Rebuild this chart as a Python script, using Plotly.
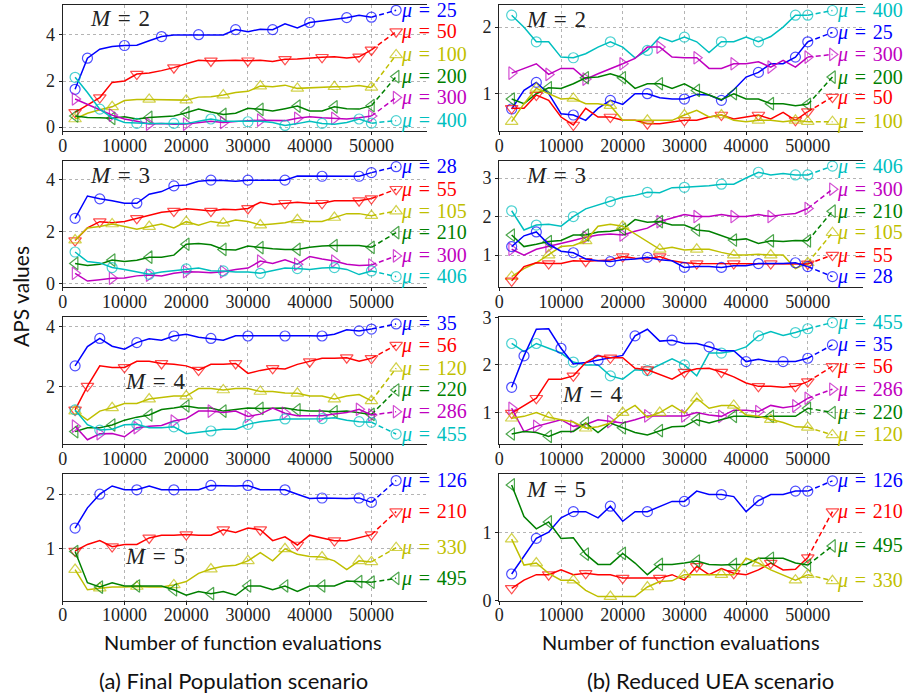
import plotly.graph_objects as go
from plotly.subplots import make_subplots

# ---------------------------------------------------------------- data
EVALS = list(range(2000, 50001, 2000))
FINAL_EVAL = 54000
X_TICKS = [0, 10000, 20000, 30000, 40000, 50000]

# (a) Final Population scenario, M = 2
a2_mu = ["25", "50", "100", "200", "300", "400"]
a2_mu25 = [1.64, 2.99, 3.38, 3.5, 3.54, 3.55, 3.75, 3.93, 4.0, 4.0, 4.01, 4.0, 4.0, 4.23, 4.14, 4.25, 4.23, 4.48, 4.3, 4.54, 4.6, 4.68, 4.75, 4.85, 4.77]
a2_mu50 = [0.64, 0.95, 1.28, 1.94, 2.0, 2.3, 2.35, 2.45, 2.58, 2.75, 2.9, 2.87, 2.9, 2.9, 2.88, 2.9, 2.85, 2.94, 2.95, 3.0, 3.03, 3.05, 3.0, 3.05, 3.35]
a2_mu100 = [0.35, 0.6, 0.75, 0.88, 1.15, 1.2, 1.2, 1.2, 1.2, 1.17, 1.3, 1.32, 1.39, 1.5, 1.55, 1.78, 1.75, 1.82, 1.68, 1.7, 1.75, 1.75, 1.75, 1.8, 1.72]
a2_mu200 = [0.48, 0.42, 0.4, 0.38, 0.45, 0.35, 0.42, 0.45, 0.48, 0.62, 0.78, 0.65, 0.55, 0.6, 0.82, 0.77, 0.7, 0.8, 0.91, 0.7, 0.7, 0.88, 0.8, 0.78, 0.93]
a2_mu300 = [1.22, 1.0, 0.75, 0.52, 0.35, 0.25, 0.13, 0.15, 0.12, 0.13, 0.2, 0.25, 0.2, 0.25, 0.28, 0.3, 0.28, 0.28, 0.38, 0.45, 0.4, 0.38, 0.35, 0.4, 0.48]
a2_mu400 = [2.16, 1.5, 0.78, 0.4, 0.2, 0.16, 0.15, 0.15, 0.16, 0.15, 0.25, 0.35, 0.25, 0.25, 0.23, 0.25, 0.2, 0.07, 0.15, 0.25, 0.16, 0.12, 0.2, 0.35, 0.17]
a2_end = [5.07, 4.14, 3.13, 2.19, 1.28, 0.28]

# (a) M = 3
a3_mu = ["28", "55", "105", "210", "300", "406"]
a3_mu28 = [2.52, 3.38, 3.27, 3.2, 3.1, 3.1, 3.45, 3.55, 3.77, 3.8, 3.95, 3.99, 3.98, 3.95, 3.99, 4.0, 4.0, 3.99, 4.15, 4.15, 4.14, 4.15, 4.15, 4.14, 4.28]
a3_mu55 = [1.66, 2.15, 2.39, 2.35, 2.4, 2.52, 2.65, 2.75, 2.8, 2.89, 2.85, 2.8, 2.87, 2.85, 2.9, 3.14, 3.05, 3.1, 3.14, 3.1, 3.1, 3.2, 3.2, 3.2, 3.28]
a3_mu105 = [1.68, 2.15, 2.2, 2.3, 2.2, 2.1, 2.2, 2.3, 2.15, 2.39, 2.25, 2.4, 2.33, 2.45, 2.4, 2.26, 2.3, 2.35, 2.46, 2.4, 2.4, 2.55, 2.7, 2.7, 2.62]
a3_mu210 = [0.78, 0.7, 0.75, 0.91, 0.85, 0.9, 1.02, 1.02, 1.1, 1.52, 1.55, 1.5, 1.32, 1.3, 1.45, 1.39, 1.35, 1.32, 1.32, 1.4, 1.45, 1.47, 1.47, 1.47, 1.4]
a3_mu300 = [0.4, 0.1, 0.15, 0.21, 0.22, 0.3, 0.33, 0.3, 0.4, 0.46, 0.45, 0.42, 0.46, 0.55, 0.6, 0.87, 0.78, 0.92, 0.75, 1.05, 0.95, 0.87, 0.75, 0.7, 0.72]
a3_mu406 = [1.22, 0.85, 0.8, 0.62, 0.55, 0.45, 0.36, 0.45, 0.5, 0.57, 0.6, 0.5, 0.49, 0.45, 0.45, 0.4, 0.5, 0.6, 0.58, 0.55, 0.6, 0.62, 0.55, 0.35, 0.49]
a3_end = [4.51, 3.64, 2.8, 1.97, 1.07, 0.27]

# (a) M = 4
a4_mu = ["35", "56", "120", "220", "286", "455"]
a4_mu35 = [2.7, 3.34, 3.61, 3.35, 3.25, 3.47, 3.6, 3.55, 3.69, 3.75, 3.65, 3.61, 3.55, 3.7, 3.69, 3.7, 3.7, 3.69, 3.7, 3.7, 3.69, 3.75, 3.9, 3.86, 3.92]
a4_mu56 = [1.24, 2.03, 2.7, 2.65, 2.65, 2.85, 2.85, 2.78, 2.75, 2.7, 2.56, 2.75, 2.75, 2.78, 2.45, 2.55, 2.62, 2.6, 2.75, 2.84, 2.95, 2.95, 2.97, 2.85, 2.95]
a4_mu120 = [1.2, 0.9, 1.2, 1.31, 1.45, 1.45, 1.6, 1.65, 1.7, 1.7, 1.95, 1.95, 1.9, 1.95, 1.95, 1.85, 1.85, 1.8, 1.79, 1.7, 1.7, 1.6, 1.7, 1.75, 1.54]
a4_mu220 = [0.52, 0.65, 0.65, 0.74, 0.9, 1.0, 1.07, 1.25, 1.3, 1.37, 1.3, 1.3, 1.2, 1.25, 1.3, 1.29, 1.3, 1.3, 1.24, 1.2, 1.2, 1.18, 1.2, 1.15, 1.09]
a4_mu286 = [0.7, 0.25, 0.45, 0.46, 0.35, 0.65, 0.7, 0.72, 0.87, 0.95, 1.2, 1.2, 1.15, 1.2, 1.02, 1.1, 1.3, 1.13, 1.05, 1.05, 1.05, 1.1, 1.15, 1.26, 1.07]
a4_mu455 = [1.24, 0.75, 0.57, 0.6, 0.75, 0.76, 0.65, 0.65, 0.68, 0.45, 0.5, 0.54, 0.6, 0.6, 0.76, 0.85, 0.9, 0.94, 0.94, 0.94, 0.95, 0.98, 0.9, 0.85, 0.83]
a4_end = [4.09, 3.39, 2.62, 1.9, 1.18, 0.44]

# (a) M = 5
a5_mu = ["126", "210", "330", "495"]
a5_mu126 = [1.38, 1.75, 2.0, 2.15, 2.08, 2.08, 2.15, 2.08, 2.08, 2.08, 2.08, 2.16, 2.15, 2.15, 2.16, 2.08, 2.08, 2.08, 2.0, 1.92, 1.93, 1.92, 1.92, 1.93, 1.85]
a5_mu210 = [0.96, 1.08, 1.15, 1.04, 1.08, 1.08, 1.2, 1.25, 1.25, 1.26, 1.25, 1.25, 1.35, 1.3, 1.38, 1.35, 1.15, 1.22, 1.07, 1.25, 1.2, 1.15, 1.15, 1.2, 1.26]
a5_mu330 = [0.62, 0.25, 0.28, 0.3, 0.3, 0.31, 0.3, 0.3, 0.34, 0.4, 0.55, 0.63, 0.68, 0.7, 0.78, 0.93, 0.78, 1.0, 0.9, 0.86, 0.85, 0.78, 0.62, 0.78, 0.76]
a5_mu495 = [0.95, 0.38, 0.3, 0.38, 0.32, 0.32, 0.32, 0.32, 0.25, 0.15, 0.22, 0.18, 0.22, 0.15, 0.32, 0.32, 0.25, 0.32, 0.22, 0.32, 0.32, 0.32, 0.41, 0.4, 0.39]
a5_end = [2.25, 1.68, 1.02, 0.46]

# (b) Reduced UEA scenario, M = 2
b2_mu = ["400", "25", "300", "200", "50", "100"]
b2_mu400 = [2.18, 2.0, 1.78, 1.78, 1.55, 1.54, 1.6, 1.7, 1.78, 1.7, 1.54, 1.65, 1.85, 1.78, 1.85, 1.78, 1.62, 1.78, 1.78, 1.85, 1.78, 1.86, 2.0, 2.18, 2.18]
b2_mu25 = [0.77, 1.05, 1.17, 1.0, 0.7, 0.68, 0.6, 0.78, 0.9, 0.84, 1.0, 1.0, 0.94, 0.92, 0.92, 0.99, 0.98, 0.9, 1.06, 1.25, 1.32, 1.45, 1.45, 1.55, 1.78]
b2_mu300 = [1.31, 1.38, 1.45, 1.29, 1.38, 1.38, 1.22, 1.3, 1.37, 1.45, 1.53, 1.7, 1.7, 1.55, 1.54, 1.54, 1.38, 1.38, 1.45, 1.45, 1.48, 1.4, 1.5, 1.4, 1.55]
b2_mu200 = [0.92, 0.85, 1.0, 1.09, 1.08, 1.15, 1.24, 1.25, 1.3, 1.24, 1.08, 1.15, 1.15, 1.08, 1.15, 1.05, 0.98, 0.91, 1.0, 0.92, 0.92, 0.85, 0.85, 0.82, 0.84]
b2_mu50 = [0.78, 0.78, 0.98, 0.9, 0.65, 0.53, 0.78, 0.65, 0.65, 0.6, 0.6, 0.55, 0.55, 0.58, 0.6, 0.6, 0.65, 0.68, 0.62, 0.65, 0.68, 0.62, 0.72, 0.6, 0.73]
b2_mu100 = [0.58, 0.85, 1.08, 1.0, 0.92, 0.93, 0.85, 0.85, 0.82, 0.6, 0.6, 0.6, 0.6, 0.6, 0.68, 0.75, 0.65, 0.68, 0.6, 0.58, 0.6, 0.6, 0.58, 0.6, 0.58]
b2_end = [2.25, 1.92, 1.59, 1.25, 0.95, 0.58]

# (b) M = 3
b3_mu = ["406", "300", "210", "105", "55", "28"]
b3_mu406 = [2.15, 1.65, 1.78, 1.8, 1.75, 2.0, 2.2, 2.3, 2.39, 2.5, 2.55, 2.63, 2.62, 2.75, 2.76, 2.78, 2.8, 2.84, 2.84, 3.0, 3.15, 3.08, 3.12, 3.08, 3.08]
b3_mu300 = [1.15, 1.0, 1.15, 1.22, 1.3, 1.38, 1.46, 1.52, 1.55, 1.52, 1.62, 1.7, 1.87, 1.95, 2.05, 2.0, 2.0, 2.05, 2.0, 2.0, 2.05, 2.0, 2.05, 2.08, 2.21]
b3_mu210 = [1.52, 1.22, 1.28, 1.35, 1.38, 1.52, 1.52, 1.6, 1.62, 1.67, 1.92, 1.85, 1.87, 1.78, 1.78, 1.65, 1.62, 1.5, 1.39, 1.42, 1.3, 1.37, 1.35, 1.38, 1.37]
b3_mu105 = [0.44, 0.65, 0.8, 1.0, 1.22, 1.25, 1.37, 1.75, 1.8, 1.75, 1.55, 1.37, 1.15, 1.2, 1.13, 1.15, 1.15, 1.07, 1.0, 1.0, 1.02, 1.0, 1.0, 0.65, 0.8]
b3_mu55 = [0.33, 0.7, 0.8, 0.78, 0.78, 0.85, 0.84, 0.85, 0.87, 0.96, 0.92, 0.9, 0.96, 0.85, 0.8, 0.78, 0.78, 0.78, 0.78, 0.78, 0.78, 0.78, 0.78, 0.78, 0.77]
b3_mu28 = [1.22, 1.5, 1.6, 1.28, 1.1, 1.06, 0.9, 0.85, 0.83, 0.88, 0.9, 0.94, 0.88, 0.85, 0.68, 0.7, 0.7, 0.68, 0.72, 0.72, 0.78, 0.78, 0.78, 0.8, 0.7]
b3_end = [3.31, 2.71, 2.14, 1.58, 1.0, 0.44]

# (b) M = 4
b4_mu = ["455", "35", "56", "286", "220", "120"]
b4_mu455 = [2.45, 2.28, 2.45, 2.35, 2.25, 2.06, 2.0, 2.0, 1.77, 1.7, 1.9, 1.88, 2.0, 2.13, 2.0, 1.77, 2.25, 2.25, 2.29, 2.38, 2.61, 2.7, 2.62, 2.68, 2.76]
b4_mu35 = [1.53, 2.19, 2.75, 2.76, 2.35, 2.02, 2.05, 2.1, 2.14, 2.2, 2.61, 2.75, 2.5, 2.52, 2.45, 2.45, 2.38, 2.3, 2.3, 2.07, 2.12, 2.07, 2.07, 2.07, 2.14]
b4_mu56 = [0.99, 1.15, 1.3, 1.7, 1.7, 1.77, 2.05, 2.19, 2.15, 2.15, 1.93, 1.9, 1.8, 1.7, 1.85, 1.92, 1.93, 1.85, 1.75, 1.62, 1.55, 1.55, 1.53, 1.55, 1.65]
b4_mu286 = [1.09, 0.6, 0.71, 0.78, 0.85, 0.71, 0.75, 0.85, 0.81, 0.78, 0.85, 0.93, 0.93, 0.93, 0.93, 1.0, 0.95, 0.92, 1.05, 1.05, 1.02, 1.15, 1.1, 1.14, 1.3]
b4_mu220 = [0.55, 0.6, 0.58, 0.5, 0.6, 0.6, 0.78, 0.58, 0.78, 0.68, 0.58, 0.53, 0.62, 0.7, 0.71, 0.85, 0.78, 0.85, 0.92, 0.92, 0.9, 0.92, 0.92, 0.92, 1.09]
b4_mu120 = [0.88, 0.92, 1.0, 0.9, 0.85, 0.8, 0.67, 0.7, 0.78, 1.0, 1.15, 0.9, 1.0, 1.15, 0.99, 1.3, 1.09, 1.15, 1.15, 0.95, 0.92, 0.85, 0.79, 0.7, 0.69]
b4_end = [2.89, 2.42, 1.97, 1.49, 1.0, 0.53]

# (b) M = 5
b5_mu = ["126", "210", "495", "330"]
b5_mu126 = [0.39, 0.65, 0.91, 1.0, 1.21, 1.3, 1.3, 1.21, 1.38, 1.16, 1.3, 1.3, 1.38, 1.45, 1.45, 1.6, 1.55, 1.55, 1.52, 1.3, 1.46, 1.55, 1.55, 1.6, 1.6]
b5_mu210 = [0.18, 0.3, 0.38, 0.38, 0.45, 0.38, 0.4, 0.38, 0.38, 0.33, 0.33, 0.33, 0.33, 0.38, 0.3, 0.5, 0.38, 0.47, 0.4, 0.38, 0.45, 0.55, 0.45, 0.46, 0.63]
b5_mu495 = [1.69, 1.23, 1.05, 1.15, 0.91, 0.92, 0.68, 0.53, 0.53, 0.69, 0.55, 0.38, 0.53, 0.53, 0.55, 0.58, 0.53, 0.52, 0.53, 0.53, 0.62, 0.62, 0.62, 0.55, 0.52]
b5_mu330 = [0.9, 0.52, 0.55, 0.4, 0.3, 0.3, 0.15, 0.06, 0.06, 0.06, 0.06, 0.2, 0.28, 0.29, 0.38, 0.38, 0.38, 0.38, 0.38, 0.62, 0.55, 0.45, 0.38, 0.3, 0.38]
b5_end = [1.75, 1.3, 0.8, 0.29]

# ---------------------------------------------------------------- styles
STYLE = {  # colour, open marker symbol, marker size
    "b": ("#0000ff", "circle-open", 10),
    "r": ("#ff0000", "triangle-down-open", 11),
    "y": ("#bfbf00", "triangle-up-open", 11),
    "g": ("#008000", "triangle-left-open", 11),
    "m": ("#bf00bf", "triangle-right-open", 11),
    "c": ("#00bfbf", "circle-open", 10),
}
SERIF = "Liberation Serif"
SANS = "Lato"
SP = "\u2004"  # wider space around "=" in the math labels

# row, col, series, labels, end values, line keys, marker phase, y range, y ticks, M label pos
PANELS = [
    (1, 1, [a2_mu25, a2_mu50, a2_mu100, a2_mu200, a2_mu300, a2_mu400], a2_mu, a2_end,
     "brygmc", [1, 2, 0, 0, 0, 2], [-0.17, 5.32], [0, 2, 4], ("2", 4100, 4.70)),
    (1, 2, [b2_mu400, b2_mu25, b2_mu300, b2_mu200, b2_mu50, b2_mu100], b2_mu, b2_end,
     "cbmgry", [2, 2, 0, 0, 2, 2], [0.44, 2.34], [1, 2], ("2", 4000, 2.12)),
    (2, 1, [a3_mu28, a3_mu55, a3_mu105, a3_mu210, a3_mu300, a3_mu406], a3_mu, a3_end,
     "brygmc", [2, 2, 0, 0, 0, 0], [-0.13, 4.74], [0, 2, 4], ("3", 4100, 4.18)),
    (2, 2, [b3_mu406, b3_mu300, b3_mu210, b3_mu105, b3_mu55, b3_mu28], b3_mu, b3_end,
     "cmgyrb", [2, 0, 0, 0, 0, 2], [0.17, 3.45], [1, 2, 3], ("3", 4000, 3.06)),
    (3, 1, [a4_mu35, a4_mu56, a4_mu120, a4_mu220, a4_mu286, a4_mu455], a4_mu, a4_end,
     "brygmc", [2, 1, 0, 0, 2, 2], [0.11, 4.31], [2, 4], ("4", 9800, 2.18)),
    (3, 2, [b4_mu455, b4_mu35, b4_mu56, b4_mu286, b4_mu220, b4_mu120], b4_mu, b4_end,
     "cbrmgy", [2, 1, 2, 2, 0, 0], [0.34, 3.0], [1, 2, 3], ("4", 9800, 1.37)),
    (4, 1, [a5_mu126, a5_mu210, a5_mu330, a5_mu495], a5_mu, a5_end,
     "bryg", [2, 0, 2, 2], [0.05, 2.37], [1, 2], ("5", 9800, 0.86)),
    (4, 2, [b5_mu126, b5_mu210, b5_mu495, b5_mu330], b5_mu, b5_end,
     "brgy", [2, 0, 0, 2], [0.0, 1.85], [0, 1], ("5", 4000, 1.62)),
]

COL_DOMAIN = {1: [0.0688, 0.4682], 2: [0.5475, 0.9466]}
ROW_DOMAIN = {1: [0.8118, 0.9935], 2: [0.5876, 0.7691], 3: [0.3621, 0.5441], 4: [0.1369, 0.3190]}

fig = make_subplots(rows=4, cols=2)
annotations = []

for row, col, series, labels, ends, keys, phases, yr, yt, mlab in PANELS:
    idx = (row - 1) * 2 + col
    xa = "x" if idx == 1 else f"x{idx}"
    ya = "y" if idx == 1 else f"y{idx}"
    for vals, lab, end, key, ph in zip(series, labels, ends, keys, phases):
        color, sym, msize = STYLE[key]
        n = len(vals)
        sizes = [msize if (i == 0 or i == n - 1 or i % 3 == ph) else 0 for i in range(n)]
        fig.add_trace(go.Scatter(
            x=EVALS, y=vals, mode="lines+markers",
            line=dict(color=color, width=1.5),
            marker=dict(symbol=sym, size=sizes, color=color, line=dict(width=1.2, color=color)),
            cliponaxis=False, showlegend=False, hoverinfo="skip"), row=row, col=col)
        fig.add_trace(go.Scatter(
            x=[EVALS[-1], FINAL_EVAL], y=[vals[-1], end], mode="lines+markers",
            line=dict(color=color, width=1.5, dash="5px,3px"),
            marker=dict(symbol=sym, size=[0, msize], color=color, line=dict(width=1.2, color=color)),
            cliponaxis=False, showlegend=False, hoverinfo="skip"), row=row, col=col)
        annotations.append(dict(
            x=FINAL_EVAL, y=end, xref=xa, yref=ya, xanchor="left", yanchor="middle",
            xshift=3, showarrow=False, text=f"<i>μ</i>{SP}={SP}{lab}",
            font=dict(family=SERIF, size=20, color=color)))
    mtxt, mx, my = mlab
    annotations.append(dict(
        x=mx, y=my, xref=xa, yref=ya, xanchor="left", yanchor="middle", showarrow=False,
        text=f"<i>M</i>{SP}={SP}{mtxt}", font=dict(family=SERIF, size=23, color="#222222")))

    axis_common = dict(showline=True, linecolor="#222222", linewidth=1.3, automargin=False,
                       showgrid=True, gridcolor="#b4b4b4", gridwidth=0.8, griddash="dot",
                       zeroline=False, ticks="outside", ticklen=3, tickwidth=1,
                       tickcolor="#222222", tickfont=dict(family=SERIF, size=18, color="#222222"))
    fig.update_xaxes(range=[0, 59000], tickvals=X_TICKS, ticktext=[str(v) for v in X_TICKS],
                     mirror=True, domain=COL_DOMAIN[col], ticklabelstandoff=-5,
                     row=row, col=col, **axis_common)
    fig.update_yaxes(range=yr, tickvals=yt, ticktext=[str(v) for v in yt],
                     domain=ROW_DOMAIN[row], row=row, col=col, **axis_common)

# shared titles and captions
title_font = dict(family=SANS, size=20, color="#111111")
caption_font = dict(family=SANS, size=22, color="#111111")
annotations += [
    dict(x=20 / 912, y=1 - 297 / 696, xref="paper", yref="paper", text="APS values",
         textangle=-90, showarrow=False, xanchor="center", yanchor="middle",
         font=dict(family=SANS, size=21, color="#111111")),
    dict(x=243.5 / 912, y=1 - 642 / 696, xref="paper", yref="paper",
         text="Number of function evaluations", showarrow=False,
         xanchor="center", yanchor="middle", font=title_font),
    dict(x=680.5 / 912, y=1 - 642 / 696, xref="paper", yref="paper",
         text="Number of function evaluations", showarrow=False,
         xanchor="center", yanchor="middle", font=title_font),
    dict(x=233 / 912, y=1 - 680 / 696, xref="paper", yref="paper",
         text="(a) Final Population scenario", showarrow=False,
         xanchor="center", yanchor="middle", font=caption_font),
    dict(x=710 / 912, y=1 - 680 / 696, xref="paper", yref="paper",
         text="(b) Reduced UEA scenario", showarrow=False,
         xanchor="center", yanchor="middle", font=caption_font),
]

fig.update_layout(width=912, height=696,
                  margin=dict(l=0, r=0, t=0, b=0, autoexpand=False),
                  paper_bgcolor="white", plot_bgcolor="white",
                  showlegend=False, annotations=annotations)

fig.write_html("out.html")
